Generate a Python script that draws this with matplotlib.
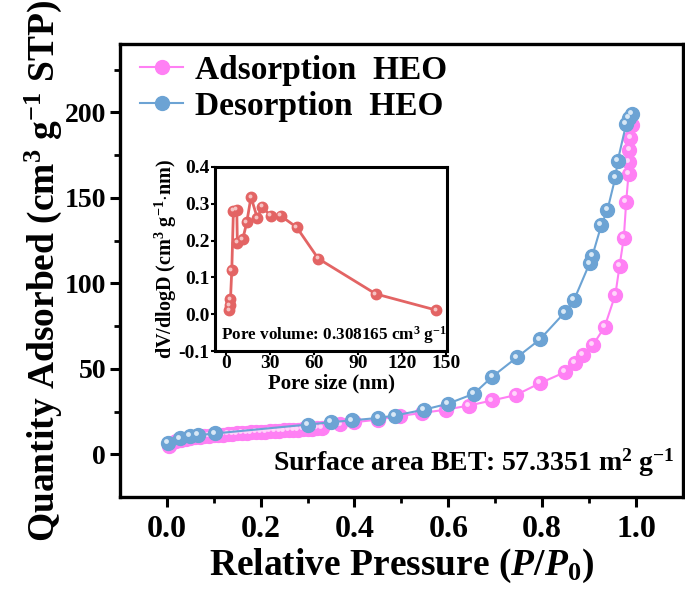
import matplotlib
matplotlib.use("Agg")
import matplotlib.pyplot as plt
from matplotlib.transforms import offset_copy

plt.rcParams["font.family"] = ["Liberation Serif", "DejaVu Serif"]
plt.rcParams["font.weight"] = "bold"
plt.rcParams["mathtext.fontset"] = "custom"
plt.rcParams["mathtext.rm"] = "Liberation Serif:bold"
plt.rcParams["mathtext.bf"] = "Liberation Serif:bold"
plt.rcParams["mathtext.it"] = "Liberation Serif:italic:bold"

# 吸附支（相对压力 P/P0, 吸附量 cm3/g STP）
ads_p = [0.005, 0.01, 0.02, 0.03, 0.04, 0.05, 0.06, 0.07, 0.08, 0.09,
         0.10, 0.11, 0.12, 0.13, 0.14, 0.15, 0.16, 0.17, 0.18, 0.19,
         0.20, 0.21, 0.22, 0.23, 0.24, 0.25, 0.26, 0.27, 0.28, 0.29,
         0.30, 0.31, 0.32, 0.33, 0.37, 0.40, 0.45, 0.498, 0.544, 0.594,
         0.643, 0.693, 0.744, 0.795, 0.848, 0.870, 0.887, 0.908, 0.933, 0.956,
         0.965, 0.974, 0.979, 0.984, 0.985, 0.986, 0.988, 0.991]
ads_q = [5.0, 6.5, 7.6, 8.4, 9.0, 9.5, 9.9, 10.3, 10.6, 10.9,
         11.2, 11.4, 11.6, 11.8, 12.0, 12.2, 12.4, 12.6, 12.8, 13.0,
         13.1, 13.3, 13.5, 13.7, 13.8, 14.0, 14.2, 14.4, 14.5, 14.7,
         14.9, 15.1, 15.3, 15.5, 17.5, 18.8, 20.3, 22.5, 24.2, 26.1,
         28.5, 31.5, 34.7, 41.6, 48.0, 53.5, 58.1, 63.9, 74.5, 93.5,
         110.4, 126.8, 147.5, 164.0, 171.0, 178.0, 185.3, 192.7]

# 脱附支（从高压到低压）
des_p = [0.991, 0.984, 0.979, 0.961, 0.956, 0.939, 0.926, 0.907, 0.901, 0.868,
         0.848, 0.795, 0.746, 0.694, 0.654, 0.599, 0.548, 0.486, 0.451, 0.395,
         0.35, 0.30, 0.102, 0.067, 0.05, 0.028, 0.003]
des_q = [199.4, 196.9, 193.2, 171.8, 162.0, 142.9, 134.0, 116.2, 111.7, 90.4,
         83.0, 67.2, 56.7, 45.5, 35.4, 29.6, 26.1, 22.7, 21.3, 19.9,
         18.8, 17.4, 12.2, 11.2, 10.6, 9.3, 6.8]

# 孔径分布（插图）
pore_d = [2.0, 2.5, 3.0, 3.9, 5.0, 7.3, 7.7, 11.4, 14.1, 17.0,
          21.4, 24.5, 30.5, 37.3, 48.2, 62.9, 102.2, 143.5]
pore_v = [0.011, 0.025, 0.040, 0.120, 0.281, 0.284, 0.194, 0.204, 0.249, 0.318,
          0.260, 0.292, 0.267, 0.267, 0.236, 0.151, 0.055, 0.011]

pink = "#FF80F4"
blue = "#6CA3D4"
red = "#E36464"

fig = plt.figure(figsize=(6.85, 5.96), dpi=100)
ax = fig.add_axes([0.175, 0.166, 0.822, 0.760])

hl = offset_copy(ax.transData, fig=fig, x=-1.3, y=1.3, units="points")
ax.plot(ads_p, ads_q, "-o", color=pink, lw=1.5, ms=10, mec=pink, label="Adsorption  HEO", zorder=3)
ax.plot(ads_p, ads_q, "o", color="#FFD6FB", ms=3.5, mew=0, transform=hl, zorder=3.1)
ax.plot(des_p, des_q, "-o", color=blue, lw=1.5, ms=10, mec=blue, label="Desorption  HEO", zorder=4)
ax.plot(des_p, des_q, "o", color="#D8E8F6", ms=3.5, mew=0, transform=hl, zorder=4.1)

ax.set_xlim(-0.1, 1.1)
ax.set_ylim(-25, 240)
ax.set_xticks([0.0, 0.2, 0.4, 0.6, 0.8, 1.0])
ax.set_xticks([0.1, 0.3, 0.5, 0.7, 0.9], minor=True)
ax.set_yticks([0, 50, 100, 150, 200])
ax.set_yticks([25, 75, 125, 175, 225], minor=True)
ax.tick_params(axis="both", which="major", direction="out", length=7, width=2.2)
ax.tick_params(axis="both", which="minor", direction="out", length=4, width=2.0)
ax.tick_params(axis="x", labelsize=23, pad=6)
ax.tick_params(axis="y", labelsize=20, pad=3)
for s in ax.spines.values():
    s.set_linewidth(2.4)

ax.set_xlabel(r"Relative Pressure ($P$/$P_0$)", fontsize=27, fontweight="bold", labelpad=2)
ax.set_ylabel(r"Quantity Adsorbed (cm$^{3}$ g$^{-1}$ STP)", fontsize=27, fontweight="bold", labelpad=0)

ax.legend(loc="upper left", bbox_to_anchor=(0.0, 1.02), frameon=False,
          handlelength=1.3, handletextpad=0.35, labelspacing=0.15, borderaxespad=0.2,
          prop={"weight": "bold", "size": 24})

ax.text(0.985, 0.04, r"Surface area BET: 57.3351 m$^{2}$ g$^{-1}$", transform=ax.transAxes,
        ha="right", va="bottom", fontsize=20, fontweight="bold")

# 插图：孔径分布
ins = fig.add_axes([0.314, 0.411, 0.339, 0.309])
ins.plot(pore_d, pore_v, "-o", color=red, lw=2.0, ms=7.5, mec=red, zorder=3)
ins_hl = offset_copy(ins.transData, fig=fig, x=-1.0, y=1.0, units="points")
ins.plot(pore_d, pore_v, "o", color="#F6C4C4", ms=2.8, mew=0, transform=ins_hl, zorder=3.1)
ins.set_xlim(-7.5, 151)
ins.set_ylim(-0.1, 0.4)
ins.set_xticks([0, 30, 60, 90, 120, 150])
ins.set_yticks([-0.1, 0.0, 0.1, 0.2, 0.3, 0.4])
ins.set_yticklabels(["-0.1", "0.0", "0.1", "0.2", "0.3", "0.4"])
ins.tick_params(axis="both", direction="out", length=3, width=1.5)
ins.tick_params(axis="x", labelsize=14, pad=0)
ins.tick_params(axis="y", labelsize=14, pad=1)
for s in ins.spines.values():
    s.set_linewidth(2.2)
ins.set_xlabel("Pore size (nm)", fontsize=15, fontweight="bold", labelpad=1)
ins.set_ylabel(r"dV/dlogD (cm$^{3}$ g$^{-1}$$\cdot$nm)", fontsize=14.5, fontweight="bold", labelpad=0)
ins.text(0.025, 0.03, r"Pore volume: 0.308165 cm$^{3}$ g$^{-1}$", transform=ins.transAxes,
         ha="left", va="bottom", fontsize=12.3, fontweight="bold")

fig.savefig("out.png", dpi=100)
